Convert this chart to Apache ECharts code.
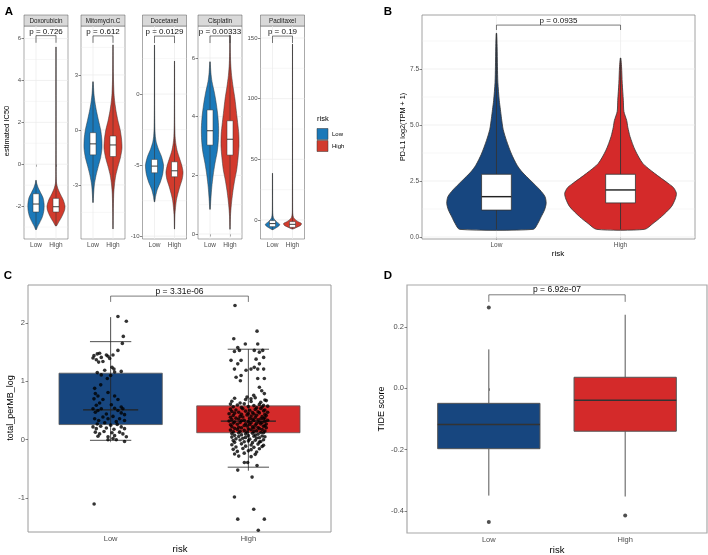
<!DOCTYPE html>
<html><head><meta charset="utf-8">
<script src="https://cdn.jsdelivr.net/npm/echarts@6/dist/echarts.min.js"></script>
<style>html,body{margin:0;padding:0;background:#fff}#main{width:708px;height:555px}</style>
</head><body><div id="main"></div>
<script>
const FONT = 'Liberation Sans, Arial, Helvetica, sans-serif';
const groups = ['Low', 'High'];

// ---------- Panel A data ----------
const drugNames = ['Doxorubicin', 'Mitomycin.C', 'Docetaxel', 'Cisplatin', 'Paclitaxel'];
const drugP = ['p = 0.726', 'p = 0.612', 'p = 0.0129', 'p = 0.00333', 'p = 0.19'];
const drugTicks = [[-2, 0, 2, 4, 6], [-3, 0, 3], [-10, -5, 0], [0, 2, 4, 6], [0, 50, 100, 150]];
const drugLimits = [[-3.57, 6.6], [-5.95, 5.67], [-10.2, 4.79], [-0.17, 7.09], [-15.7, 159.9]];
const drugBracket = [[6.14, 5.8], [5.13, 4.75], [4.08, 3.59], [6.75, 6.51], [151.6, 145.9]];
// [q1, median, q3]
const drugBoxLow = [[-2.28, -1.9, -1.41], [-1.36, -0.76, -0.15], [-5.54, -5.07, -4.6], [3.03, 3.52, 4.23], [-5.5, -3, -0.5]];
const drugBoxHigh = [[-2.28, -2.03, -1.63], [-1.45, -0.82, -0.33], [-5.82, -5.4, -4.77], [2.69, 3.23, 3.86], [-6.1, -3.6, -1.4]];
// violin profiles: [value, relative density]
const doxLow = [[-3.12,0.05],[-3.0,0.15],[-2.8,0.4],[-2.5,0.72],[-2.2,0.88],[-1.9,0.9],[-1.6,0.78],[-1.35,0.5],[-1.1,0.22],[-0.9,0.07],[-0.77,0.02]];
const doxHigh = [[-2.95,0.05],[-2.8,0.25],[-2.5,0.65],[-2.2,0.95],[-2.0,1.0],[-1.7,0.8],[-1.4,0.45],[-1.15,0.2],[-0.9,0.06],[-0.5,0.02],[1,0.012],[3,0.008],[5.6,0.005]];
const mitoLow = [[-3.96,0.02],[-3.5,0.07],[-3.0,0.15],[-2.5,0.33],[-2.0,0.58],[-1.5,0.85],[-1.0,1.0],[-0.5,0.98],[0,0.85],[0.5,0.62],[1.0,0.4],[1.5,0.22],[2.0,0.1],[2.63,0.02]];
const mitoHigh = [[-5.4,0.01],[-4.5,0.03],[-3.5,0.08],[-3.0,0.16],[-2.5,0.3],[-2.0,0.55],[-1.5,0.83],[-1.0,1.0],[-0.5,0.95],[0,0.8],[0.5,0.55],[1.0,0.35],[1.5,0.2],[2.0,0.11],[3.0,0.04],[4.64,0.01]];
const doceLow = [[-7.58,0.03],[-7.2,0.12],[-6.7,0.32],[-6.2,0.65],[-5.6,0.92],[-5.0,1.0],[-4.4,0.78],[-3.9,0.45],[-3.4,0.2],[-3.0,0.1],[-2.5,0.05],[-1.5,0.025],[0,0.015],[3.45,0.01]];
const doceHigh = [[-9.5,0.01],[-8.5,0.05],[-7.5,0.2],[-7.0,0.38],[-6.5,0.6],[-6.0,0.85],[-5.5,0.95],[-5.0,0.8],[-4.5,0.55],[-4.0,0.3],[-3.5,0.15],[-3.0,0.07],[-2.0,0.03],[0,0.015],[2.32,0.01]];
const cisLow = [[0.84,0.02],[1.2,0.1],[1.6,0.2],[2.0,0.35],[2.4,0.55],[2.8,0.8],[3.2,0.93],[3.6,0.96],[4.0,0.88],[4.4,0.72],[4.8,0.5],[5.2,0.22],[5.5,0.1],[5.87,0.02]];
const cisHigh = [[0.16,0.01],[0.6,0.05],[1.0,0.15],[1.4,0.3],[1.8,0.5],[2.2,0.75],[2.6,0.9],[3.0,1.0],[3.4,0.98],[3.8,0.85],[4.2,0.7],[4.6,0.55],[5.0,0.35],[5.4,0.18],[5.8,0.08],[6.3,0.03],[6.78,0.01]];
const pacLow = [[-8,0.05],[-6.5,0.4],[-5,0.7],[-3.5,0.8],[-2,0.55],[0,0.25],[2,0.1],[5,0.04],[10,0.02],[20,0.015],[38.5,0.01]];
const pacHigh = [[-7.5,0.05],[-6,0.5],[-4.5,0.9],[-3,1.0],[-1.5,0.65],[0,0.35],[2,0.12],[5,0.04],[10,0.02],[50,0.01],[145,0.005]];
const drugProfLow = [doxLow, mitoLow, doceLow, cisLow, pacLow];
const drugProfHigh = [doxHigh, mitoHigh, doceHigh, cisHigh, pacHigh];

// ---------- Panel B data ----------
const bTicks = [0, 2.5, 5, 7.5];
const bLimits = [-0.09, 9.91];
const bP = 'p = 0.0935';
const bBracket = [9.46, 9.24];
const bBoxLow = [1.2, 1.8, 2.8];
const bBoxHigh = [1.52, 2.1, 2.8];
const bProfLow = [[0.34,0.66],[0.6,0.74],[0.9,0.8],[1.2,0.86],[1.5,0.89],[1.8,0.87],[2.1,0.78],[2.5,0.62],[2.9,0.46],[3.2,0.37],[3.7,0.27],[4.3,0.18],[4.8,0.12],[5.3,0.09],[5.7,0.07],[6.1,0.05],[6.9,0.025],[7.6,0.018],[8.5,0.012],[9.09,0.004]];
const bProfHigh = [[0.34,0.43],[0.6,0.58],[0.9,0.73],[1.35,0.91],[1.7,0.98],[1.95,1.0],[2.2,0.95],[2.4,0.85],[2.84,0.61],[3.28,0.4],[3.88,0.26],[4.48,0.17],[4.9,0.13],[5.2,0.11],[5.6,0.06],[6.1,0.05],[6.86,0.03],[7.6,0.018],[7.99,0.004]];

// ---------- Panel C data ----------
const cTicks = [-1, 0, 1, 2];
const cLimits = [-1.58, 2.65];
const cP = 'p = 3.31e-06';
const cBracket = [2.46, 2.36];
const cBoxLow = [0.26, 0.51, 1.14];
const cBoxHigh = [0.12, 0.32, 0.58];
const cCapsLow = [-0.01, 1.68];
const cCapsHigh = [-0.47, 1.55];
const cLineLow = [-0.01, 2.1];
const cLineHigh = [-0.53, 1.55];
// jitter points [offset, value]
const cPointsLow = [
 [0.053,2.11],[0.114,2.03],[0.092,1.77],[0.085,1.65],[0.053,1.53],
 [-0.128,1.40],[-0.121,1.44],[-0.097,1.47],[-0.08,1.48],[-0.068,1.41],[-0.031,1.45],[-0.019,1.43],[-0.007,1.39],[-0.087,1.33],[-0.056,1.34],[-0.104,1.37],[0.017,1.45],
 [0.01,1.24],[0.024,1.21],[0.077,1.17],[0.029,1.16],
 [-0.097,1.15],[-0.068,1.11],[-0.024,1.05],[-0.043,1.19],[0,1.10],
 [-0.116,0.88],[-0.072,0.94],[-0.111,0.79],[-0.092,0.75],[-0.121,0.70],[-0.056,0.69],[0.029,0.75],[0.053,0.69],[-0.019,0.81],[-0.08,0.63],[-0.104,0.59],[0.077,0.56],[0.005,0.60],
 [-0.128,0.53],[-0.111,0.47],[-0.092,0.50],[-0.068,0.53],[-0.031,0.44],[0.029,0.54],[0.053,0.50],[0.077,0.46],[0.101,0.43],[0.089,0.53],
 [-0.116,0.36],[-0.087,0.33],[-0.056,0.39],[-0.019,0.36],[0.017,0.40],[0.041,0.31],[0.065,0.36],[0.101,0.33],[-0.097,0.27],[-0.043,0.29],
 [-0.128,0.22],[-0.104,0.19],[-0.072,0.23],[-0.031,0.20],[0,0.25],[0.024,0.18],[0.048,0.26],[0.077,0.22],[0.101,0.19],[-0.111,0.13],[-0.08,0.10],[-0.048,0.14],[0.01,0.12],[0.065,0.13],
 [-0.092,0.06],[-0.019,0.05],[0.029,0.07],[0.089,0.10],[0.114,0.05],
 [-0.019,0.0],[0.017,0.02],[0.041,0.0],[0.101,-0.03],
 [-0.12,-1.1]
];
const cPointsHigh = [
 [-0.097,2.30],[0.063,1.86],[-0.106,1.73],[-0.022,1.64],[0.068,1.64],[-0.077,1.58],
 [-0.101,1.51],[-0.065,1.53],[0.043,1.53],[0.104,1.53],[0.08,1.50],
 [-0.126,1.36],[-0.053,1.36],[0.056,1.38],[0.111,1.41],[-0.077,1.30],[0.08,1.30],
 [-0.101,1.21],[-0.017,1.19],[0.019,1.21],[0.043,1.24],[0.068,1.21],[0.111,1.21],
 [-0.089,1.07],[-0.053,1.10],[0.068,1.05],[0.116,1.05],[-0.058,1.01],
 [0.08,0.90],[0.097,0.84],[0.039,0.76],[-0.01,0.73],[0.116,0.79],[0.019,0.70],
 [-0.10,0.71],[-0.02,0.69],[0.05,0.72],[0.12,0.68],
 [-0.12,0.66],[-0.06,0.63],[0.02,0.655],[0.09,0.64],[0.13,0.67],
 [-0.13,0.61],[-0.08,0.595],[-0.03,0.615],[0.04,0.585],[0.08,0.605],[0.11,0.59],
 [-0.11,0.565],[-0.05,0.55],[0.0,0.57],[0.06,0.545],[0.10,0.56],[0.14,0.575],
 [-0.13,0.525],[-0.09,0.51],[-0.04,0.53],[0.01,0.505],[0.05,0.52],[0.09,0.535],[0.12,0.51],
 [-0.12,0.485],[-0.07,0.47],[-0.02,0.49],[0.03,0.465],[0.07,0.48],[0.11,0.495],[0.14,0.47],
 [-0.14,0.445],[-0.10,0.455],[-0.05,0.435],[0.0,0.45],[0.04,0.44],[0.08,0.46],[0.12,0.435],
 [-0.11,0.415],[-0.06,0.4],[-0.01,0.425],[0.02,0.405],[0.06,0.42],[0.10,0.395],[0.13,0.415],
 [-0.13,0.385],[-0.09,0.37],[-0.04,0.39],[0.01,0.365],[0.05,0.38],[0.09,0.36],[0.12,0.375],
 [-0.12,0.345],[-0.07,0.355],[-0.03,0.335],[0.03,0.35],[0.07,0.34],[0.11,0.36],[0.14,0.335],
 [-0.14,0.32],[-0.10,0.305],[-0.05,0.325],[0.0,0.31],[0.04,0.33],[0.08,0.3],[0.12,0.315],
 [-0.11,0.285],[-0.06,0.295],[-0.02,0.275],[0.02,0.29],[0.06,0.28],[0.10,0.295],[0.13,0.27],
 [-0.13,0.255],[-0.08,0.265],[-0.03,0.245],[0.01,0.26],[0.05,0.25],[0.09,0.27],[0.12,0.24],
 [-0.12,0.225],[-0.07,0.215],[-0.01,0.235],[0.03,0.22],[0.07,0.21],[0.11,0.23],
 [-0.10,0.195],[-0.05,0.205],[0.0,0.185],[0.04,0.2],[0.08,0.19],[0.13,0.205],
 [-0.13,0.165],[-0.08,0.175],[-0.03,0.16],[0.02,0.17],[0.06,0.155],[0.10,0.175],
 [-0.11,0.135],[-0.06,0.145],[-0.01,0.13],[0.04,0.14],[0.09,0.125],[0.12,0.15],
 [-0.12,0.105],[-0.07,0.115],[-0.02,0.1],[0.03,0.11],[0.07,0.095],[0.11,0.12],
 [-0.10,0.075],[-0.05,0.085],[0.0,0.07],[0.05,0.08],[0.10,0.065],
 [-0.12,0.045],[-0.07,0.055],[-0.02,0.04],[0.04,0.06],[0.08,0.035],[0.12,0.05],
 [-0.09,0.015],[-0.04,0.025],[0.01,0.01],[0.06,0.03],[0.11,0.0],
 [-0.11,-0.015],[-0.06,-0.005],[0.0,-0.02],[0.05,-0.01],[0.09,-0.03],
 [-0.10,-0.045],[-0.03,-0.035],[0.03,-0.05],[0.08,-0.04],
 [-0.12,-0.085],[-0.05,-0.07],[0.02,-0.09],[0.07,-0.075],[0.11,-0.095],
 [-0.09,-0.125],[-0.02,-0.11],[0.04,-0.13],[0.10,-0.115],
 [-0.11,-0.165],[-0.04,-0.15],[0.02,-0.17],[0.08,-0.155],
 [-0.08,-0.2],[0.0,-0.19],[0.06,-0.21],
 [-0.10,-0.245],[-0.03,-0.23],[0.05,-0.25],
 [-0.07,-0.28],[0.02,-0.29],
 [-0.029,-0.39],[-0.005,-0.39],[0.063,-0.44],[-0.077,-0.52],[0.027,-0.64],
 [-0.101,-0.98],[0.039,-1.19],[-0.077,-1.36],[0.116,-1.36],[0.072,-1.55]
];

// ---------- Panel D data ----------
const dTicks = [-0.4, -0.2, 0, 0.2];
const dLimits = [-0.472, 0.337];
const dP = 'p = 6.92e-07';
const dBracket = [0.305, 0.282];
// [min, q1, median, q3, max]
const dBoxLow = [-0.35, -0.197, -0.118, -0.049, 0.127];
const dBoxHigh = [-0.353, -0.14, -0.039, 0.036, 0.24];
const dOutliersLow = [0.264, -0.436];
const dOutliersHigh = [-0.415];

// ---------- styles / layout ----------
const colA = ['#1b79b9', '#d23b2d'];
const colB = ['#17467f', '#d42a2a'];
const aLefts = [24, 81, 142.5, 198, 260.5];

const grids = [], xAxes = [], yAxes = [], series = [], graphics = [];

function addPanel(i, box, ylim, yticks, yfmt, tickFont, xFont, borderColor, borderWidth) {
  grids.push({left: box[0], top: box[1], width: box[2], height: box[3], show: true,
    borderColor: borderColor, borderWidth: borderWidth, backgroundColor: 'rgba(0,0,0,0)',
    containLabel: false, outerBoundsMode: 'none'});
  xAxes.push({gridIndex: i, type: 'value', min: 0.4, max: 2.6,
    axisLine: {show: false}, splitLine: {show: false},
    axisTick: {show: true, customValues: [1, 2], length: 2.5, lineStyle: {color: '#333', width: 0.6}},
    axisLabel: {show: true, customValues: [1, 2], formatter: v => groups[Math.round(v) - 1],
      fontSize: xFont, fontFamily: FONT, color: '#4d4d4d', margin: 3}});
  yAxes.push({gridIndex: i, type: 'value', min: ylim[0], max: ylim[1],
    axisLine: {show: false}, splitLine: {show: false},
    axisTick: {show: true, customValues: yticks, length: 2.5, lineStyle: {color: '#333', width: 0.6}},
    axisLabel: {show: true, customValues: yticks, formatter: yfmt,
      fontSize: tickFont, fontFamily: FONT, color: '#4d4d4d', margin: 3}});
}

function addGridLines(i, ylim, yticks) {
  const s = yticks[1] - yticks[0];
  const lines = [];
  yticks.forEach(v => lines.push(['h', v, 0]));
  [yticks[0] - s / 2].concat(yticks.map(v => v + s / 2)).forEach(v => {
    if (v > ylim[0] && v < ylim[1]) lines.push(['h', v, 1]);
  });
  [1, 2].forEach(v => lines.push(['v', v, 0]));
  series.push({type: 'custom', xAxisIndex: i, yAxisIndex: i, z: 1, silent: true,
    data: lines.map((_, k) => [k]),
    renderItem: (params, api) => {
      const cs = params.coordSys;
      const d = lines[params.dataIndex];
      if (d[0] === 'h') {
        const y = api.coord([1, d[1]])[1];
        return {type: 'line', shape: {x1: cs.x, y1: y, x2: cs.x + cs.width, y2: y},
          style: {stroke: '#ebebeb', lineWidth: d[2] ? 0.4 : 0.7}};
      }
      const x = api.coord([d[1], ylim[0]])[0];
      return {type: 'line', shape: {x1: x, y1: cs.y, x2: x, y2: cs.y + cs.height},
        style: {stroke: '#ebebeb', lineWidth: 0.7}};
    }});
}

function addViolins(i, profiles, boxes, colors, boxW, lw) {
  series.push({type: 'custom', xAxisIndex: i, yAxisIndex: i, z: 3, silent: true,
    data: [[1], [2]],
    renderItem: (params, api) => {
      const k = params.dataIndex, xc = k + 1, prof = profiles[k], b = boxes[k];
      const pts = [];
      prof.forEach(p => pts.push(api.coord([xc + p[1] * 0.45, p[0]])));
      for (let j = prof.length - 1; j >= 0; j--) pts.push(api.coord([xc - prof[j][1] * 0.45, prof[j][0]]));
      const top = api.coord([xc, prof[prof.length - 1][0]]), bot = api.coord([xc, prof[0][0]]);
      const p1 = api.coord([xc - boxW / 2, b[2]]), p2 = api.coord([xc + boxW / 2, b[0]]);
      const m1 = api.coord([xc - boxW / 2, b[1]]), m2 = api.coord([xc + boxW / 2, b[1]]);
      return {type: 'group', children: [
        {type: 'polygon', shape: {points: pts, smooth: 0.25}, style: {fill: colors[k], stroke: '#333', lineWidth: lw}},
        {type: 'line', shape: {x1: top[0], y1: top[1], x2: bot[0], y2: bot[1]}, style: {stroke: '#333', lineWidth: lw * 1.1}},
        {type: 'rect', shape: {x: p1[0], y: p1[1], width: p2[0] - p1[0], height: p2[1] - p1[1]},
          style: {fill: '#fff', stroke: '#333', lineWidth: lw}},
        {type: 'line', shape: {x1: m1[0], y1: m1[1], x2: m2[0], y2: m2[1]}, style: {stroke: '#222', lineWidth: lw * 1.8}}
      ]};
    }});
}

function addBracket(i, br, text, fontSize) {
  series.push({type: 'custom', xAxisIndex: i, yAxisIndex: i, z: 6, silent: true, data: [[1]],
    renderItem: (params, api) => {
      const a = api.coord([1, br[1]]), b = api.coord([1, br[0]]), c = api.coord([2, br[0]]), d = api.coord([2, br[1]]);
      return {type: 'group', children: [
        {type: 'polyline', shape: {points: [a, b, c, d]}, style: {stroke: '#222', lineWidth: 0.6, fill: null}},
        {type: 'text', style: {text: text, x: (b[0] + c[0]) / 2, y: b[1] - 0.3, align: 'center', verticalAlign: 'bottom',
          fontSize: fontSize, fontFamily: FONT, fill: '#111'}}
      ]};
    }});
}

// ----- Panel A -----
drugNames.forEach((name, k) => {
  addPanel(k, [aLefts[k], 26, 44, 213], drugLimits[k], drugTicks[k], v => String(v), 6, 6.5, '#555', 0.5);
  addGridLines(k, drugLimits[k], drugTicks[k]);
  addViolins(k, [drugProfLow[k], drugProfHigh[k]], [drugBoxLow[k], drugBoxHigh[k]], colA, 0.3, 0.5);
  addBracket(k, drugBracket[k], drugP[k], 8);
  graphics.push({type: 'rect', shape: {x: aLefts[k], y: 15, width: 44, height: 11},
    style: {fill: '#d9d9d9', stroke: '#555', lineWidth: 0.5}});
  graphics.push({type: 'text', x: aLefts[k] + 22, y: 20.8,
    style: {text: name, align: 'center', verticalAlign: 'middle', fontSize: 6.3, fontFamily: FONT, fill: '#1a1a1a'}});
});

// ----- Panel B -----
addPanel(5, [422, 15, 273, 224], bLimits, bTicks, v => v.toFixed(1), 6.5, 6.5, '#8a8a8a', 0.8);
addGridLines(5, bLimits, bTicks);
addViolins(5, [bProfLow, bProfHigh], [bBoxLow, bBoxHigh], colB, 0.24, 0.8);
addBracket(5, bBracket, bP, 8);

// ----- Panel C -----
addPanel(6, [28, 285, 303, 247], cLimits, cTicks, v => String(v), 7.5, 7.5, '#9a9a9a', 1);
series.push({type: 'custom', xAxisIndex: 6, yAxisIndex: 6, z: 3, silent: true, data: [[1], [2]],
  renderItem: (params, api) => {
    const k = params.dataIndex, xc = k + 1;
    const b = [cBoxLow, cBoxHigh][k], caps = [cCapsLow, cCapsHigh][k], ln = [cLineLow, cLineHigh][k];
    const p1 = api.coord([xc - 0.375, b[2]]), p2 = api.coord([xc + 0.375, b[0]]);
    const l1 = api.coord([xc, ln[1]]), l2 = api.coord([xc, ln[0]]);
    const ch = [];
    ch.push({type: 'rect', shape: {x: p1[0], y: p1[1], width: p2[0] - p1[0], height: p2[1] - p1[1]},
      style: {fill: colB[k], stroke: '#5a5a5a', lineWidth: 0.8}});
    ch.push({type: 'line', shape: {x1: l1[0], y1: l1[1], x2: l2[0], y2: l2[1]}, style: {stroke: '#222', lineWidth: 0.8}});
    caps.forEach(c => {
      const a = api.coord([xc - 0.15, c]), e = api.coord([xc + 0.15, c]);
      ch.push({type: 'line', shape: {x1: a[0], y1: a[1], x2: e[0], y2: e[1]}, style: {stroke: '#222', lineWidth: 0.8}});
    });
    const m1 = api.coord([xc - 0.2, b[1]]), m2 = api.coord([xc + 0.2, b[1]]);
    ch.push({type: 'line', shape: {x1: m1[0], y1: m1[1], x2: m2[0], y2: m2[1]}, style: {stroke: '#222', lineWidth: 1.2}});
    return {type: 'group', children: ch};
  }});
series.push({type: 'scatter', xAxisIndex: 6, yAxisIndex: 6, z: 5, silent: true, symbolSize: 3.6,
  itemStyle: {color: '#000'}, data: cPointsLow.map(p => [1 + p[0], p[1]])});
series.push({type: 'scatter', xAxisIndex: 6, yAxisIndex: 6, z: 5, silent: true, symbolSize: 3.6,
  itemStyle: {color: '#000'}, data: cPointsHigh.map(p => [2 + p[0], p[1]])});
addBracket(6, cBracket, cP, 8.5);

// ----- Panel D -----
addPanel(7, [407, 285, 300, 248], dLimits, dTicks, v => v.toFixed(1), 7.5, 7.5, '#a8a8a8', 1.2);
series.push({type: 'custom', xAxisIndex: 7, yAxisIndex: 7, z: 3, silent: true, data: [[1], [2]],
  renderItem: (params, api) => {
    const k = params.dataIndex, xc = k + 1, b = [dBoxLow, dBoxHigh][k];
    const p1 = api.coord([xc - 0.375, b[3]]), p2 = api.coord([xc + 0.375, b[1]]);
    const wTop1 = api.coord([xc, b[4]]), wTop2 = api.coord([xc, b[3]]);
    const wBot1 = api.coord([xc, b[1]]), wBot2 = api.coord([xc, b[0]]);
    const m1 = api.coord([xc - 0.375, b[2]]), m2 = api.coord([xc + 0.375, b[2]]);
    return {type: 'group', children: [
      {type: 'line', shape: {x1: wTop1[0], y1: wTop1[1], x2: wTop2[0], y2: wTop2[1]}, style: {stroke: '#555', lineWidth: 1}},
      {type: 'line', shape: {x1: wBot1[0], y1: wBot1[1], x2: wBot2[0], y2: wBot2[1]}, style: {stroke: '#555', lineWidth: 1}},
      {type: 'rect', shape: {x: p1[0], y: p1[1], width: p2[0] - p1[0], height: p2[1] - p1[1]},
        style: {fill: colB[k], stroke: '#555', lineWidth: 1}},
      {type: 'line', shape: {x1: m1[0], y1: m1[1], x2: m2[0], y2: m2[1]}, style: {stroke: '#333', lineWidth: 1.6}}
    ]};
  }});
series.push({type: 'scatter', xAxisIndex: 7, yAxisIndex: 7, z: 5, silent: true, symbolSize: 4,
  itemStyle: {color: '#222'},
  data: dOutliersLow.map(v => [1, v]).concat(dOutliersHigh.map(v => [2, v]))});
addBracket(7, dBracket, dP, 8.5);

// ----- titles, legend, panel letters -----
function txt(x, y, text, size, opts) {
  const o = Object.assign({type: 'text', x: x, y: y,
    style: {text: text, align: 'center', verticalAlign: 'middle', fontSize: size, fontFamily: FONT, fill: '#000'}}, opts || {});
  graphics.push(o);
}
txt(7, 131, 'estimated IC50', 7.5, {rotation: Math.PI / 2});
txt(403, 127, 'PD-L1 log2(TPM + 1)', 7.2, {rotation: Math.PI / 2});
txt(558, 254, 'risk', 8);
txt(10.5, 408, 'total_perMB_log', 9, {rotation: Math.PI / 2});
txt(180, 549, 'risk', 9.5);
txt(382, 409, 'TIDE score', 9, {rotation: Math.PI / 2});
txt(557, 550, 'risk', 9.5);
[['A', 9, 12], ['B', 388, 12], ['C', 8, 276], ['D', 388, 276]].forEach(l =>
  graphics.push({type: 'text', x: l[1], y: l[2], style: {text: l[0], align: 'center', verticalAlign: 'middle',
    fontSize: 11.5, fontWeight: 'bold', fontFamily: FONT, fill: '#000'}}));
// legend for panel A
graphics.push({type: 'text', x: 317, y: 119, style: {text: 'risk', align: 'left', verticalAlign: 'middle', fontSize: 7.5, fontFamily: FONT, fill: '#000'}});
groups.forEach((g, k) => {
  graphics.push({type: 'rect', shape: {x: 317, y: 128.5 + k * 12, width: 11, height: 11},
    style: {fill: colA[k], stroke: '#333', lineWidth: 0.5}});
  graphics.push({type: 'text', x: 332, y: 134 + k * 12, style: {text: g, align: 'left', verticalAlign: 'middle', fontSize: 6, fontFamily: FONT, fill: '#000'}});
});

const chart = echarts.init(document.getElementById('main'), null, {renderer: 'canvas'});
chart.setOption({
  animation: false,
  backgroundColor: '#fff',
  grid: grids, xAxis: xAxes, yAxis: yAxes, series: series, graphic: graphics
});
</script></body></html>
